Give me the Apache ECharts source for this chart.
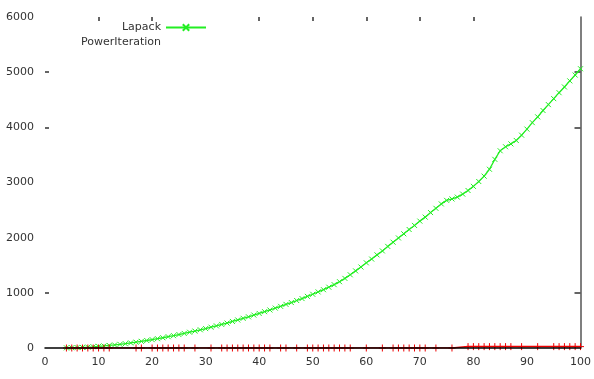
<!DOCTYPE html>
<html><head><meta charset="utf-8">
<script src="https://cdn.jsdelivr.net/npm/echarts@6/dist/echarts.min.js"></script>
<style>html,body{margin:0;padding:0;background:#fff}#c{width:594px;height:379px}</style>
</head><body><div id="c"></div>
<script>
const lapackX = [4,5,6,7,8,9,10,11,12,13,14,15,16,17,18,19,20,21,22,23,24,25,26,27,28,29,30,31,32,33,34,35,36,37,38,39,40,41,42,43,44,45,46,47,48,49,50,51,52,53,54,55,56,57,58,59,60,61,62,63,64,65,66,67,68,69,70,71,72,73,74,75,76,77,78,79,80,81,82,83,84,85,86,87,88,89,90,91,92,93,94,95,96,97,98,99,100];
const lapackY = [3,5,8,11,16,22,30,37,46,55,66,78,92,106,121,136,152,169,186,205,224,244,264,286,307,330,352,377,401,427,452,481,508,538,565,597,626,659,689,723,755,791,824,861,896,936,974,1017,1057,1102,1148,1202,1262,1327,1398,1468,1544,1612,1688,1760,1842,1918,1995,2070,2148,2222,2300,2372,2455,2532,2612,2676,2702,2735,2790,2855,2930,3018,3115,3240,3420,3575,3648,3700,3762,3858,3968,4085,4190,4305,4412,4520,4628,4732,4842,4948,5062];
const powerX = [4,5,6,7,8,9,10,11,12,17,18,20,21,22,23,24,25,26,28,31,33,34,35,36,37,38,39,40,41,42,44,45,47,49,50,51,52,53,54,55,56,57,60,63,65,66,67,68,69,70,71,73,76,79,80,81,82,83,84,85,86,87,89,92,95,96,97,98,99,100];
const powerY = [0,0,0,0,0,0,0,0,0,0,0,0,0,0,0,0,0,0,0,0,0,0,0,0,0,0,0,0,0,0,0,0,0,0,0,0,0,0,0,0,0,0,0,0,0,0,0,0,0,0,0,0,0,25,25,25,25,25,25,25,25,25,25,25,25,25,25,25,25,25];
const xTicks = {min:0, max:100, interval:10};
const yTicks = {min:0, max:6000, interval:1000};
const topTickValues = [10,20,40,50,60,70,80];
const sideTickValues = [1000,4000,5000];

const pair = (xs, ys) => xs.map((x,i)=>[x, ys[i]]);
const font = 'DejaVu Sans';
const plain = v => String(v);
const chart = echarts.init(document.getElementById('c'), null, {renderer:'canvas'});
chart.setOption({
  animation:false,
  backgroundColor:'#fff',
  grid:{left:45, right:8, top:17, bottom:31, containLabel:false},
  legend:[
    {right:387, top:22, padding:0, align:'right', itemWidth:40, itemHeight:8,
     textStyle:{fontFamily:font, fontSize:11, color:'#333'},
     data:[{name:'Lapack'}], selectedMode:false},
    {right:387, top:37, padding:0, align:'right', itemWidth:40, itemHeight:8,
     textStyle:{fontFamily:font, fontSize:11, color:'#333'},
     data:[{name:'PowerIteration', itemStyle:{opacity:0}, lineStyle:{opacity:0}}], selectedMode:false}
  ],
  xAxis:[
    {type:'value', position:'bottom', min:xTicks.min, max:xTicks.max, interval:xTicks.interval, z:5,
     axisLine:{show:true, onZero:false, lineStyle:{color:'#000', width:1.5}},
     axisTick:{show:false}, splitLine:{show:false},
     axisLabel:{margin:9, fontFamily:font, fontSize:11, color:'#333', formatter:plain}},
    {type:'value', position:'top', min:xTicks.min, max:xTicks.max, interval:xTicks.interval,
     axisLine:{show:false, onZero:false}, axisLabel:{show:false}, splitLine:{show:false},
     axisTick:{show:true, inside:true, length:4, customValues:topTickValues, lineStyle:{color:'#333', width:1.5}}}
  ],
  yAxis:[
    {type:'value', position:'left', min:yTicks.min, max:yTicks.max, interval:yTicks.interval,
     axisLine:{show:false, onZero:false}, splitLine:{show:false},
     axisTick:{show:true, inside:true, length:4, customValues:sideTickValues, lineStyle:{color:'#333', width:1.5}},
     axisLabel:{margin:11, fontFamily:font, fontSize:11, color:'#333', formatter:plain}},
    {type:'value', position:'right', min:yTicks.min, max:yTicks.max, interval:yTicks.interval,
     axisLine:{show:true, onZero:false, lineStyle:{color:'#555', width:1.5}}, splitLine:{show:false}, axisLabel:{show:false},
     axisTick:{show:true, inside:true, length:6, customValues:sideTickValues, lineStyle:{color:'#333', width:1.5}}}
  ],
  series:[
    {name:'Lapack', type:'line', data:pair(lapackX, lapackY),
     symbol:'path://M-1,-1L1,1M1,-1L-1,1', symbolSize:5, showAllSymbol:true,
     lineStyle:{color:'#22ee22', width:1.3},
     itemStyle:{color:'#22ee22', borderColor:'#22ee22', borderWidth:1}, z:3},
    {name:'PowerIteration', type:'line', data:pair(powerX, powerY),
     symbol:'path://M0,-1L0,1M-1,0L1,0', symbolSize:7, showAllSymbol:true,
     lineStyle:{color:'#ee0000', width:1.5},
     itemStyle:{color:'#ee0000', borderColor:'#ee0000', borderWidth:1}, z:4}
  ]
});
</script></body></html>
